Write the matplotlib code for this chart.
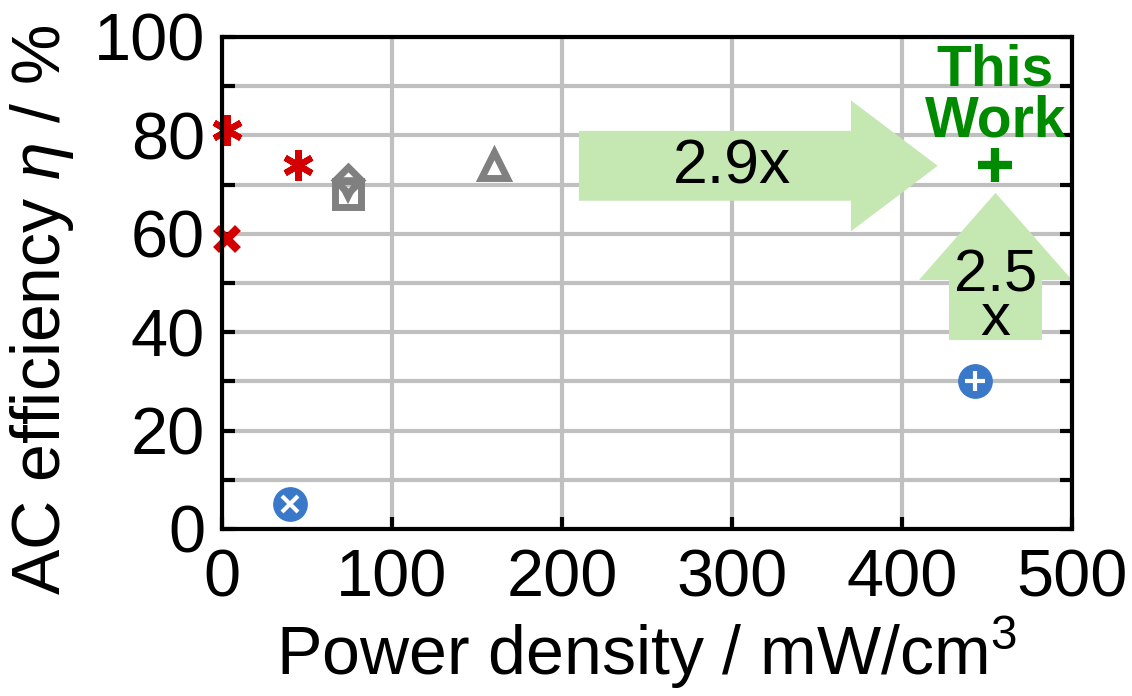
import matplotlib.pyplot as plt
from matplotlib.patches import FancyArrow

plt.rcParams['font.family'] = ['Liberation Sans', 'DejaVu Sans']
plt.rcParams['mathtext.fontset'] = 'custom'
plt.rcParams['mathtext.it'] = 'Liberation Sans:italic'
plt.rcParams['mathtext.rm'] = 'Liberation Sans'

# literature data (power density mW/cm3, AC efficiency %)
star_x, star_y = [3, 45], [81, 74]
cross_x, cross_y = [3], [59]
tri_x, tri_y = [160], [74]
dia_x, dia_y = [74], [71]
sq_x, sq_y = [74], [68]
tdown_x, tdown_y = [74], [69]
ox_x, oy_x = [40], [5]
op_x, op_y = [443], [30]
work_x, work_y = [455], [74]

fig = plt.figure(figsize=(11.32, 6.96), dpi=100)
ax = fig.add_axes([0.196, 0.240, 0.751, 0.707])

grey = '#808080'
red = '#d40000'
blue = '#3a78c9'
green = '#008a00'
arrow_c = '#c5e8b3'

# arrows first so markers sit above
ax.add_patch(FancyArrow(210, 73.8, 211, 0, width=14.2, head_width=26.6,
                        head_length=51, length_includes_head=True,
                        color=arrow_c, lw=0, zorder=1))
ax.add_patch(FancyArrow(455, 38.4, 0, 29.9, width=54.7, head_width=90,
                        head_length=17.7, length_includes_head=True,
                        color=arrow_c, lw=0, zorder=1, clip_on=False))
ax.text(300, 73.5, '2.9x', fontsize=45, ha='center', va='center', zorder=2)
ax.text(455, 47, '2.5\nx', fontsize=43, ha='center', va='center',
        linespacing=0.75, zorder=2)
ax.text(455, 88, 'This\nWork', fontsize=41, fontweight='bold', color=green,
        ha='center', va='center', linespacing=0.92, zorder=2)

kw = dict(linestyle='none', clip_on=False, zorder=3)
ax.plot(star_x, star_y, marker=(6, 2, 0), ms=22, mew=4.5, color=red, **kw)
ax.plot(cross_x, cross_y, marker='x', ms=16, mew=6, color=red, **kw)
ax.plot(tri_x, tri_y, marker='^', ms=19, mew=5, mfc='none', mec=grey, **kw)
ax.plot(dia_x, dia_y, marker='D', ms=13, mew=5, mfc='none', mec=grey, **kw)
ax.plot(sq_x, sq_y, marker='s', ms=19, mew=5, mfc='none', mec=grey, **kw)
ax.plot(tdown_x, tdown_y, marker='v', ms=13, mew=4, mfc='none', mec=grey, **kw)
ax.plot(ox_x, oy_x, marker='o', ms=24, color=blue, **kw)
ax.plot(ox_x, oy_x, marker='x', ms=11, mew=3, color='white', **kw)
ax.plot(op_x, op_y, marker='o', ms=24, color=blue, **kw)
ax.plot(op_x, op_y, marker='+', ms=14, mew=3, color='white', **kw)
ax.plot(work_x, work_y, marker='+', ms=24, mew=6, color=green, **kw)

ax.set_xlim(0, 500)
ax.set_ylim(0, 100)
ax.set_xticks([0, 100, 200, 300, 400, 500])
ax.set_yticks([0, 20, 40, 60, 80, 100])
ax.set_yticks(range(10, 100, 20), minor=True)
ax.grid(True, which='both', axis='y', color='#c0c0c0', lw=3, zorder=0)
ax.grid(True, which='major', axis='x', color='#c0c0c0', lw=3, zorder=0)
ax.set_axisbelow(True)
ax.tick_params(which='both', direction='in', length=9, width=3,
               labelsize=48, right=True, top=False)
ax.tick_params(axis='x', pad=14)
ax.tick_params(axis='y', pad=12)
for s in ax.spines.values():
    s.set_linewidth(3)
    s.set_zorder(4)

ax.set_xlabel('Power density / mW/cm$^3$', fontsize=49, labelpad=3)
ax.set_ylabel(r'AC efficiency $\eta$ / %', fontsize=49)
ax.yaxis.set_label_coords(-0.172, 0.445)

fig.savefig('out.png', dpi=100)
